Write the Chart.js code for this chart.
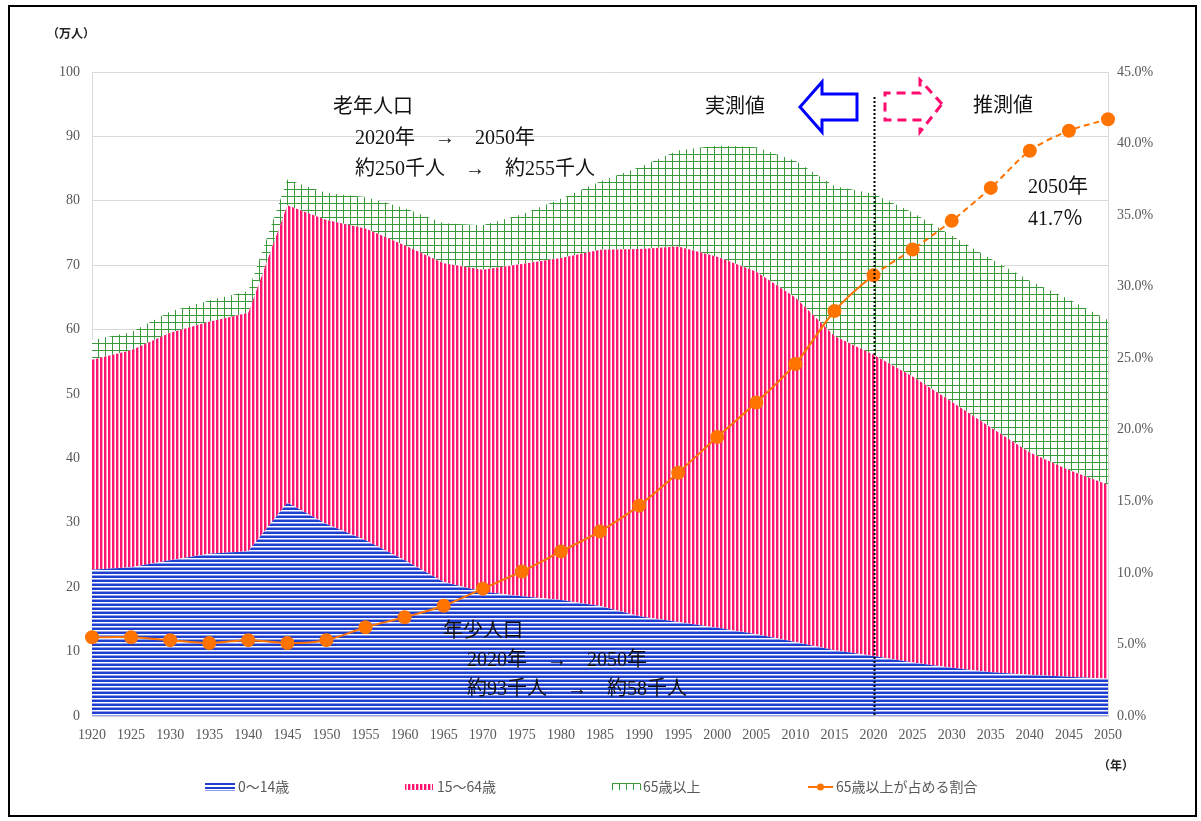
<!DOCTYPE html>
<html>
<head>
<meta charset="utf-8">
<script src="https://cdn.jsdelivr.net/npm/chart.js@4"></script>
<style>
  html, body { margin: 0; padding: 0; background: #fff; }
  #wrap { position: relative; width: 1201px; height: 821px; }
</style>
</head>
<body>
<div id="wrap"><canvas id="chart" width="1201" height="821"></canvas></div>
<script>
const years = ["1920","1925","1930","1935","1940","1945","1950","1955","1960","1965","1970","1975","1980","1985","1990","1995","2000","2005","2010","2015","2020","2025","2030","2035","2040","2045","2050"];

// population (10,000 people)
const age0to14 = [22.7, 23.1, 24.2, 25.2, 25.6, 33.1, 29.8, 27.3, 24.2, 20.8, 19.3, 18.6, 18.0, 17.1, 15.5, 14.6, 13.7, 12.7, 11.5, 10.2, 9.3, 8.3, 7.5, 6.8, 6.4, 6.1, 5.8];
const age15to64 = [32.6, 33.7, 35.3, 36.0, 37.0, 46.2, 47.2, 48.4, 48.9, 49.5, 50.0, 51.6, 53.1, 55.3, 57.0, 58.3, 57.6, 56.3, 53.5, 48.8, 46.8, 44.4, 41.3, 38.0, 34.5, 32.1, 30.1];
const age65plus = [3.1, 2.8, 3.3, 3.3, 3.4, 4.0, 4.2, 4.9, 5.8, 6.2, 6.9, 7.7, 9.2, 10.6, 12.7, 14.9, 17.3, 19.3, 21.2, 23.3, 25.0, 25.5, 25.8, 26.2, 26.7, 26.5, 25.6];

// share of 65+ (%)
const ratio65 = [5.5, 5.5, 5.3, 5.1, 5.3, 5.1, 5.3, 6.2, 6.9, 7.7, 8.9, 10.1, 11.5, 12.9, 14.7, 17.0, 19.5, 21.9, 24.6, 28.3, 30.8, 32.6, 34.6, 36.9, 39.5, 40.9, 41.7];

const leftTicks = [0, 10, 20, 30, 40, 50, 60, 70, 80, 90, 100];
const rightTicks = [0, 5, 10, 15, 20, 25, 30, 35, 40, 45];

const serif = '"Liberation Serif", "Noto Sans CJK JP", serif';
const sans = '"Noto Sans CJK JP", sans-serif';

function makePattern(w, h, draw) {
  const c = document.createElement("canvas");
  c.width = w; c.height = h;
  const g = c.getContext("2d");
  g.fillStyle = "#fff";
  g.fillRect(0, 0, w, h);
  draw(g);
  return c;
}

const blueTile = makePattern(4, 4, function (g) {
  g.fillStyle = "#1f3fd0"; g.fillRect(0, 0, 4, 2);
  g.fillStyle = "#8ea2ec"; g.fillRect(0, 3, 4, 1);
});
const pinkTile = makePattern(4, 4, function (g) {
  g.fillStyle = "#ff1670"; g.fillRect(0, 0, 2, 4);
  g.fillStyle = "#ff9cc0"; g.fillRect(2, 0, 1, 4);
});
const greenTile = makePattern(7, 7, function (g) {
  g.fillStyle = "#3a9a3a";
  g.fillRect(0, 0, 7, 1);
  g.fillRect(0, 0, 1, 7);
});

const tmpCtx = document.createElement("canvas").getContext("2d");
const bluePattern = tmpCtx.createPattern(blueTile, "repeat");
const pinkPattern = tmpCtx.createPattern(pinkTile, "repeat");
const greenPattern = tmpCtx.createPattern(greenTile, "repeat");

const decorations = {
  id: "decorations",
  afterDatasetsDraw(chart) {
    const ctx = chart.ctx;
    const x = chart.scales.x;
    const area = chart.chartArea;
    ctx.save();

    // measured / projected divider
    const x2020 = Math.round(x.getPixelForValue(years.indexOf("2020"))) + 0.5;
    ctx.strokeStyle = "#000";
    ctx.lineWidth = 2;
    ctx.setLineDash([2, 2]);
    ctx.beginPath();
    ctx.moveTo(x2020, 97);
    ctx.lineTo(x2020, area.bottom);
    ctx.stroke();
    ctx.setLineDash([]);

    // arrows
    ctx.lineWidth = 3;
    ctx.strokeStyle = "#0000ff";
    ctx.beginPath();
    ctx.moveTo(800, 107); ctx.lineTo(822, 82); ctx.lineTo(822, 94); ctx.lineTo(857, 94);
    ctx.lineTo(857, 120); ctx.lineTo(822, 120); ctx.lineTo(822, 132); ctx.closePath();
    ctx.stroke();

    ctx.strokeStyle = "#ff0a6e";
    ctx.setLineDash([9, 6]);
    ctx.beginPath();
    ctx.moveTo(942, 104); ctx.lineTo(920, 80); ctx.lineTo(920, 93); ctx.lineTo(885, 93);
    ctx.lineTo(885, 120); ctx.lineTo(920, 120); ctx.lineTo(920, 132); ctx.closePath();
    ctx.stroke();
    ctx.setLineDash([]);

    // annotations
    ctx.fillStyle = "#111";
    ctx.textBaseline = "middle";
    ctx.textAlign = "left";
    ctx.font = "20px " + serif;
    ctx.fillText("実測値", 705, 108);
    ctx.fillText("推測値", 973, 107);
    ctx.fillText("老年人口", 333, 108);
    ctx.fillText("2020年　→　2050年", 355, 139);
    ctx.fillText("約250千人　→　約255千人", 355, 170);
    ctx.fillText("2050年", 1028, 188);
    ctx.fillText("41.7％", 1028, 220);
    ctx.font = "20px " + serif;
    ctx.fillText("年少人口", 443, 632);
    ctx.fillText("2020年　→　2050年", 467, 661);
    ctx.fillText("約93千人　→　約58千人", 467, 690);

    ctx.fillStyle = "#222";
    ctx.font = "bold 12px " + sans;
    ctx.fillText("（万人）", 47, 33);
    ctx.fillText("（年）", 1098, 765);

    // legend
    const ly = 787;
    ctx.fillStyle = "#1f3fd0";
    ctx.fillRect(205, ly - 4, 30, 2);
    ctx.fillRect(205, ly, 30, 2);
    ctx.fillStyle = "#8ea2ec";
    ctx.fillRect(205, ly + 3, 30, 1);
    ctx.fillStyle = pinkPattern;
    ctx.fillRect(405, ly - 3, 28, 6);
    ctx.strokeStyle = "#3a9a3a";
    ctx.lineWidth = 1;
    ctx.beginPath();
    ctx.moveTo(612, ly - 3.5); ctx.lineTo(640, ly - 3.5);
    for (let i = 0; i <= 4; i++) {
      const px = 612.5 + i * 7;
      ctx.moveTo(px, ly - 3.5); ctx.lineTo(px, ly + 3);
    }
    ctx.stroke();
    ctx.strokeStyle = "#ff7300";
    ctx.lineWidth = 2;
    ctx.beginPath();
    ctx.moveTo(808, ly); ctx.lineTo(833, ly);
    ctx.stroke();
    ctx.fillStyle = "#ff7300";
    ctx.beginPath();
    ctx.arc(820.5, ly, 3.5, 0, Math.PI * 2);
    ctx.fill();

    ctx.fillStyle = "#595959";
    ctx.font = "14px " + sans;
    ctx.fillText("0～14歳", 238, ly);
    ctx.fillText("15～64歳", 437, ly);
    ctx.fillText("65歳以上", 643, ly);
    ctx.fillText("65歳以上が占める割合", 836, ly);

    // frame
    ctx.strokeStyle = "#000";
    ctx.lineWidth = 2;
    ctx.strokeRect(9, 6, 1187, 810);
    ctx.restore();
  },
};

new Chart(document.getElementById("chart").getContext("2d"), {
  type: "line",
  data: {
    labels: years,
    datasets: [
      {
        label: "65歳以上が占める割合",
        data: ratio65,
        yAxisID: "y1",
        stack: "ratio",
        fill: false,
        borderColor: "#ff7300",
        backgroundColor: "#ff7300",
        borderWidth: 2,
        pointRadius: 6,
        pointBackgroundColor: "#ff7300",
        pointBorderColor: "#ff7300",
        tension: 0.3,
        order: 0,
        segment: {
          borderDash: (c) => (c.p0DataIndex >= years.indexOf("2020") ? [6, 4] : undefined),
        },
      },
      {
        label: "0～14歳",
        data: age0to14,
        yAxisID: "y",
        stack: "pop",
        fill: "origin",
        backgroundColor: bluePattern,
        borderWidth: 0,
        pointRadius: 0,
        order: 1,
      },
      {
        label: "15～64歳",
        data: age15to64,
        yAxisID: "y",
        stack: "pop",
        fill: "-1",
        backgroundColor: pinkPattern,
        borderWidth: 0,
        pointRadius: 0,
        order: 2,
      },
      {
        label: "65歳以上",
        data: age65plus,
        yAxisID: "y",
        stack: "pop",
        fill: "-1",
        backgroundColor: greenPattern,
        borderWidth: 0,
        pointRadius: 0,
        order: 3,
      },
    ],
  },
  options: {
    responsive: false,
    animation: false,
    layout: { padding: { left: 30, right: 20, top: 72, bottom: 0 } },
    plugins: {
      legend: { display: false },
      tooltip: { enabled: false },
      filler: { propagate: false, drawTime: "beforeDatasetsDraw" },
    },
    scales: {
      x: {
        offset: false,
        grid: { display: false, drawTicks: true },
        border: { color: "#d9d9d9" },
        ticks: {
          autoSkip: false,
          maxRotation: 0,
          color: "#595959",
          font: { family: serif, size: 14 },
          padding: 3,
        },
        afterFit: (s) => { s.height = 105; },
      },
      y: {
        stacked: true,
        min: 0,
        max: 100,
        afterBuildTicks: (s) => { s.ticks = leftTicks.map((v) => ({ value: v })); },
        grid: { color: "#d9d9d9", drawTicks: false },
        border: { color: "#d9d9d9" },
        ticks: {
          color: "#595959",
          font: { family: serif, size: 14 },
          padding: 12,
        },
        afterFit: (s) => { s.width = 62; },
      },
      y1: {
        position: "right",
        min: 0,
        max: 45,
        afterBuildTicks: (s) => { s.ticks = rightTicks.map((v) => ({ value: v })); },
        grid: { display: false, drawTicks: true, tickLength: 5, color: "#d9d9d9" },
        border: { color: "#d9d9d9" },
        ticks: {
          color: "#595959",
          font: { family: serif, size: 14 },
          padding: 4,
          callback: (v) => v.toFixed(1) + "%",
        },
        afterFit: (s) => { s.width = 73; },
      },
    },
  },
  plugins: [decorations],
});
</script>
</body>
</html>
